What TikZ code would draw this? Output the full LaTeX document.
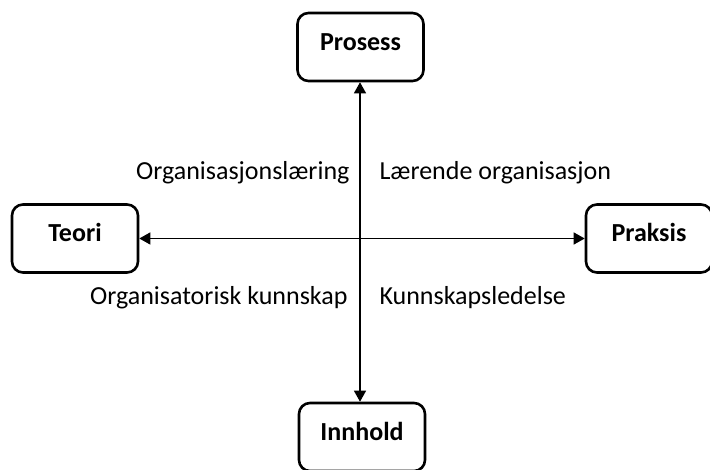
\documentclass[tikz,border=0pt]{standalone}
\usepackage{fontspec}
\setmainfont{Carlito}
\usetikzlibrary{arrows.meta}

\begin{document}
\begin{tikzpicture}[x=1pt,y=-1pt,
    box/.style={draw,line width=2.6pt,rounded corners=11pt,minimum width=126pt,minimum height=68pt,text height=18pt,text depth=11pt,font=\fontsize{26}{30}\selectfont\bfseries},
    lbl/.style={font=\fontsize{26}{30}\selectfont},
    axis/.style={{Triangle[width=12pt,length=11pt]}-{Triangle[width=12pt,length=11pt]},line width=1.3pt}]
            \useasboundingbox (0,0) rectangle (710,470);
            \node[box] (prosess) at (360.5,47) {Prosess};
            \node[box] (teori) at (75,238.5) {Teori};
            \node[box] (praksis) at (649,238.5) {Praksis};
            \node[box] (innhold) at (362,437) {Innhold};
            \draw[axis] (teori) -- (praksis);
            \draw[axis] (prosess.south -| 360,0) -- (innhold.north -| 360,0);
            \node[lbl,anchor=east] (ol) at (353,173) {Organisasjonslæring};
            \node[lbl,anchor=west] (lo) at (376,173) {Lærende organisasjon};
            \node[lbl,anchor=east] (ok) at (351,298) {Organisatorisk kunnskap};
            \node[lbl,anchor=west] (kl) at (376,298) {Kunnskapsledelse};
        \end{tikzpicture}
\end{document}
